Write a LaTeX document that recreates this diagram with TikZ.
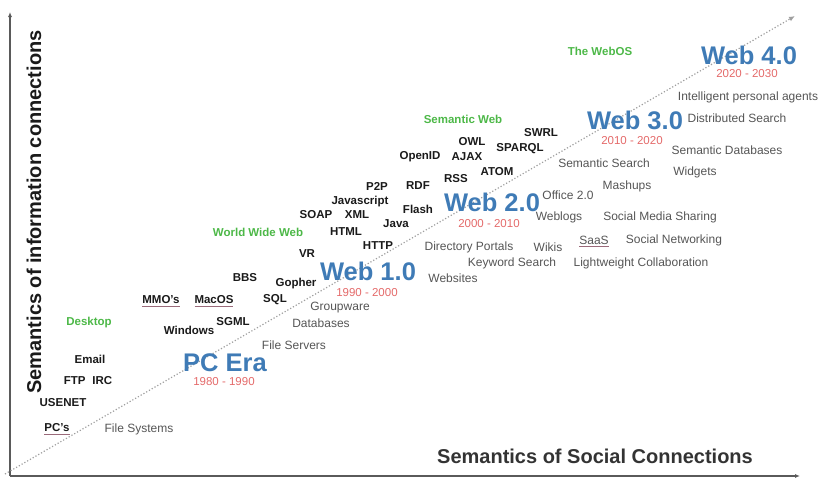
\documentclass[tikz,border=0pt]{standalone}
\usepackage{fontspec}
\setmainfont{Liberation Sans}
\usetikzlibrary{arrows.meta}
\definecolor{eraBlue}{HTML}{3F7BB6}
\definecolor{yrRed}{HTML}{E46A6A}
\definecolor{catGreen}{HTML}{4DB848}
\definecolor{descGray}{HTML}{555555}
\definecolor{axisGray}{HTML}{5A5A5A}
\definecolor{tagBlack}{HTML}{1A1A1A}
\definecolor{ulRed}{HTML}{9A6A7A}
\begin{document}
\begin{tikzpicture}[x=1pt,y=-1pt,
  every node/.style={inner sep=0pt, outer sep=0pt, anchor=center},
  tag/.style={font=\fontsize{11.5}{12}\selectfont\bfseries, text=tagBlack},
  desc/.style={font=\fontsize{12}{13}\selectfont, text=descGray},
  era/.style={font=\fontsize{25.5}{28}\selectfont\bfseries, text=eraBlue},
  yr/.style={font=\fontsize{11.5}{12}\selectfont, text=yrRed},
  cat/.style={font=\fontsize{11.5}{12}\selectfont\bfseries, text=catGreen},
  axislabel/.style={font=\fontsize{20}{22}\selectfont\bfseries},
  uline/.style={append after command={([yshift=-1.8pt]\tikzlastnode.south west) edge[draw=ulRed, line width=0.6pt] ([yshift=-1.8pt]\tikzlastnode.south east)}},
  axis/.style={draw=axisGray, line width=1.4pt, -{Latex[length=5pt,width=4pt]}},
  trend/.style={draw=gray!75, dotted, line width=1.2pt, -{Latex[length=6pt,width=5pt]}}
]
\useasboundingbox (0,0) rectangle (819,480);

% axes
\coordinate (origin) at (10,476);
\coordinate (ytop) at (10,12);
\coordinate (xend) at (800,476);
\draw[axis] (origin) -- (ytop);
\draw[axis] (origin) -- (xend);

% trend line
\coordinate (trendS) at (5,474);
\coordinate (trendE) at (795,16);
\draw[trend] (trendS) -- (trendE);

% axis labels
\node[axislabel, rotate=90, text=tagBlack] (ylab) at (34,212) {Semantics of information connections};
\node[axislabel, text=black!80] (xlab) at (595,456) {Semantics of Social Connections};

% eras
\node[era] (pcera) at (225,363) {PC Era};
\node[yr] (pcyr) at (224,382) {1980 - 1990};
\node[era] (web1) at (368,271) {Web 1.0};
\node[yr] (web1yr) at (367,293) {1990 - 2000};
\node[era] (web2) at (492,202) {Web 2.0};
\node[yr] (web2yr) at (489,224) {2000 - 2010};
\node[era] (web3) at (635,120) {Web 3.0};
\node[yr] (web3yr) at (632,141) {2010 - 2020};
\node[era] (web4) at (749,55) {Web 4.0};
\node[yr] (web4yr) at (747,74) {2020 - 2030};

% categories
\node[cat] (desktop) at (89,323) {Desktop};
\node[cat] (www) at (258,232) {World Wide Web};
\node[cat] (semweb) at (463,119) {Semantic Web};
\node[cat] (webos) at (600,51) {The WebOS};

% technologies (bold)
\node[tag, uline] (pcs) at (57,428) {PC's};
\node[tag] (usenet) at (63,403) {USENET};
\node[tag] (ftp) at (88,381) {FTP\hspace{0.6em}IRC};
\node[tag] (email) at (90,359) {Email};
\node[tag] (windows) at (189,330) {Windows};
\node[tag] (sgml) at (233,322) {SGML};
\node[tag, uline] (mmo) at (161,300) {MMO's};
\node[tag, uline] (macos) at (214,300) {MacOS};
\node[tag] (sql) at (275,300) {SQL};
\node[tag] (bbs) at (245,278) {BBS};
\node[tag] (gopher) at (296,284) {Gopher};
\node[tag] (vr) at (307,254) {VR};
\node[tag] (html) at (346,232) {HTML};
\node[tag] (http) at (378,246) {HTTP};
\node[tag] (soap) at (316,215) {SOAP};
\node[tag] (xml) at (357,215) {XML};
\node[tag] (javascript) at (360,202) {Javascript};
\node[tag] (java) at (396,224) {Java};
\node[tag] (flash) at (418,209) {Flash};
\node[tag] (ptwop) at (377,186) {P2P};
\node[tag] (rdf) at (418,186) {RDF};
\node[tag] (rss) at (456,179) {RSS};
\node[tag] (atom) at (497,172) {ATOM};
\node[tag] (openid) at (420,157) {OpenID};
\node[tag] (ajax) at (467,157) {AJAX};
\node[tag] (owl) at (472,142) {OWL};
\node[tag] (sparql) at (520,149) {SPARQL};
\node[tag] (swrl) at (541,133) {SWRL};

% applications (grey)
\node[desc] (filesys) at (139,429) {File Systems};
\node[desc] (fileserv) at (294,345) {File Servers};
\node[desc] (databases) at (321,323) {Databases};
\node[desc] (groupware) at (340,308) {Groupware};
\node[desc] (websites) at (453,278) {Websites};
\node[desc] (keyword) at (512,263) {Keyword Search};
\node[desc] (dirport) at (469,247) {Directory Portals};
\node[desc] (wikis) at (548,247) {Wikis};
\node[desc, uline] (saas) at (594,240) {SaaS};
\node[desc] (socnet) at (674,240) {Social Networking};
\node[desc] (lightw) at (641,263) {Lightweight Collaboration};
\node[desc] (weblogs) at (559,217) {Weblogs};
\node[desc] (socmed) at (660,217) {Social Media Sharing};
\node[desc] (office) at (568,195) {Office 2.0};
\node[desc] (mashups) at (627,186) {Mashups};
\node[desc] (semsearch) at (604,163) {Semantic Search};
\node[desc] (widgets) at (695,172) {Widgets};
\node[desc] (semdb) at (727,150) {Semantic Databases};
\node[desc] (distsearch) at (737,118) {Distributed Search};
\node[desc] (agents) at (748,97) {Intelligent personal agents};
\end{tikzpicture}
\end{document}
